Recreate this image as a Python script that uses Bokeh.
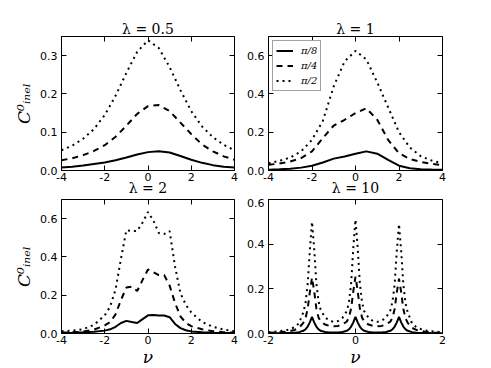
from bokeh.plotting import figure
from bokeh.models import Range1d, FixedTicker, PrintfTickFormatter, LinearAxis, CustomLabelingPolicy
from bokeh.layouts import column, row
from bokeh.embed import file_html
from bokeh.resources import INLINE

# ---------------- data ----------------
series_labels = ["π/8", "π/4", "π/2"]

x_wide = [-4, -3.5, -3, -2.5, -2, -1.5, -1, -0.5, 0, 0.5, 1, 1.5, 2, 2.5, 3, 3.5, 4]

# lambda = 0.5
l05_pi8 = [0.008, 0.010, 0.013, 0.017, 0.021, 0.027, 0.034, 0.042, 0.048, 0.050, 0.047, 0.038, 0.028, 0.020, 0.014, 0.010, 0.008]
l05_pi4 = [0.027, 0.032, 0.040, 0.051, 0.066, 0.088, 0.117, 0.148, 0.168, 0.171, 0.155, 0.125, 0.095, 0.068, 0.050, 0.037, 0.028]
l05_pi2 = [0.053, 0.065, 0.083, 0.108, 0.145, 0.195, 0.255, 0.310, 0.340, 0.320, 0.270, 0.210, 0.155, 0.115, 0.087, 0.067, 0.053]

# lambda = 1
l1_pi8 = [0.004, 0.006, 0.009, 0.015, 0.025, 0.042, 0.062, 0.073, 0.087, 0.100, 0.088, 0.055, 0.025, 0.012, 0.007, 0.005, 0.004]
l1_pi4 = [0.030, 0.036, 0.047, 0.065, 0.100, 0.170, 0.235, 0.265, 0.300, 0.325, 0.265, 0.160, 0.090, 0.060, 0.045, 0.035, 0.028]
l1_pi2 = [0.038, 0.050, 0.068, 0.100, 0.160, 0.260, 0.440, 0.570, 0.625, 0.580, 0.460, 0.330, 0.200, 0.120, 0.075, 0.052, 0.038]

# lambda = 2
x_l2 = [-4, -3.5, -3, -2.5, -2, -1.75, -1.5, -1.25, -1, -0.75, -0.5, -0.25, 0, 0.25, 0.5, 0.75, 1, 1.25, 1.5, 1.75, 2, 2.5, 3, 3.5, 4]
l2_pi8 = [0.003, 0.004, 0.006, 0.009, 0.015, 0.022, 0.035, 0.055, 0.066, 0.060, 0.055, 0.075, 0.095, 0.097, 0.094, 0.094, 0.085, 0.050, 0.028, 0.017, 0.011, 0.006, 0.004, 0.003, 0.003]
l2_pi4 = [0.005, 0.006, 0.010, 0.020, 0.042, 0.060, 0.100, 0.175, 0.240, 0.245, 0.222, 0.280, 0.335, 0.320, 0.305, 0.305, 0.250, 0.160, 0.090, 0.055, 0.038, 0.022, 0.012, 0.007, 0.005]
l2_pi2 = [0.012, 0.015, 0.022, 0.045, 0.095, 0.140, 0.230, 0.390, 0.540, 0.535, 0.535, 0.580, 0.635, 0.590, 0.525, 0.520, 0.535, 0.350, 0.210, 0.150, 0.110, 0.060, 0.035, 0.020, 0.012]

# lambda = 10
x_l10 = [-2.0, -1.8, -1.6, -1.5, -1.4, -1.3, -1.2, -1.15, -1.1, -1.05, -1.0, -0.95, -0.9, -0.85, -0.8, -0.7, -0.6,
         -0.5, -0.4, -0.3, -0.2, -0.15, -0.1, -0.05, 0.0, 0.05, 0.1, 0.15, 0.2, 0.3, 0.4, 0.5, 0.6, 0.7, 0.8, 0.85,
         0.9, 0.95, 1.0, 1.05, 1.1, 1.15, 1.2, 1.3, 1.4, 1.5, 1.6, 1.8, 2.0]
l10_pi8 = [0.001, 0.001, 0.002, 0.002, 0.003, 0.006, 0.012, 0.019, 0.031, 0.050, 0.074, 0.050, 0.031, 0.019, 0.012, 0.007, 0.005,
           0.004, 0.005, 0.007, 0.012, 0.019, 0.031, 0.050, 0.075, 0.050, 0.031, 0.019, 0.012, 0.007, 0.005, 0.004, 0.005, 0.007, 0.012, 0.019,
           0.031, 0.050, 0.074, 0.050, 0.031, 0.019, 0.012, 0.006, 0.003, 0.002, 0.002, 0.001, 0.001]
l10_pi4 = [0.003, 0.005, 0.008, 0.011, 0.016, 0.025, 0.048, 0.068, 0.110, 0.185, 0.250, 0.190, 0.112, 0.072, 0.054, 0.040, 0.034,
           0.032, 0.034, 0.040, 0.054, 0.072, 0.113, 0.190, 0.255, 0.190, 0.113, 0.072, 0.054, 0.040, 0.034, 0.032, 0.034, 0.040, 0.053, 0.070,
           0.110, 0.185, 0.245, 0.185, 0.110, 0.068, 0.048, 0.025, 0.016, 0.011, 0.008, 0.005, 0.003]
l10_pi2 = [0.006, 0.009, 0.014, 0.020, 0.028, 0.045, 0.095, 0.135, 0.220, 0.370, 0.500, 0.380, 0.225, 0.145, 0.105, 0.072, 0.058,
           0.052, 0.056, 0.070, 0.100, 0.140, 0.225, 0.385, 0.510, 0.385, 0.225, 0.140, 0.100, 0.070, 0.056, 0.052, 0.057, 0.071, 0.103, 0.142,
           0.220, 0.370, 0.490, 0.370, 0.220, 0.135, 0.095, 0.045, 0.028, 0.020, 0.014, 0.009, 0.006]

titles = ["λ = 0.5", "λ = 1", "λ = 2", "λ = 10"]
ylabel = "C⁰ᵢₙₑₗ"
xlabel = "ν"

# ---------------- styling helpers ----------------
STYLES = [dict(line_dash="solid"), dict(line_dash="6 5"), dict(line_dash="2 4")]
TICK_FONT = "DejaVu Sans"
SERIF = "DejaVu Serif"


def mirror_axis(ticks):
    return LinearAxis(ticker=FixedTicker(ticks=ticks), major_tick_in=5, major_tick_out=0,
                      minor_tick_line_color=None, axis_line_color=None,
                      major_label_policy=CustomLabelingPolicy(code="return new Set()"),
                      major_label_overrides={t: "" for t in ticks},
                      major_label_text_font_size="1px", major_label_standoff=0)


def make_panel(x, ys, title, xr, yr, xticks, yticks, left, top, bottom, right, fw,
               show_ylabel, xaxis_label, xlabel_style, legend=False):
    p = figure(frame_width=fw, frame_height=134,
               x_range=Range1d(*xr), y_range=Range1d(*yr),
               output_backend="svg", toolbar_location=None,
               min_border_left=left, min_border_right=right,
               min_border_top=top, min_border_bottom=bottom,
               background_fill_color="white", border_fill_color="white")
    p.grid.visible = False
    p.outline_line_color = "black"
    p.outline_line_width = 1
    xax = p.below[0]
    yax = p.left[0]
    for ax, ticks, fmt in ((xax, xticks, "%d"), (yax, yticks, "%.1f")):
        ax.ticker = FixedTicker(ticks=ticks)
        ax.formatter = PrintfTickFormatter(format=fmt)
        ax.major_tick_in = 5
        ax.major_tick_out = 0
        ax.minor_tick_line_color = None
        ax.axis_line_color = "black"
        ax.major_tick_line_color = "black"
        ax.major_label_text_font = TICK_FONT
        ax.major_label_text_font_size = "11px"
        ax.major_label_text_color = "black"
    xax.major_label_standoff = 2
    yax.major_label_standoff = 4
    p.add_layout(mirror_axis(yticks), "right")
    p.add_layout(mirror_axis(xticks), "above")

    if show_ylabel:
        yax.axis_label = ylabel
        yax.axis_label_text_font = SERIF
        yax.axis_label_text_font_style = "italic"
        yax.axis_label_text_font_size = "17px"
        yax.axis_label_text_color = "black"
        yax.axis_label_standoff = 3
    if xaxis_label:
        xax.axis_label = xaxis_label
        xax.axis_label_text_font = SERIF
        xax.axis_label_text_color = "black"
        if xlabel_style == "nu":
            xax.axis_label_text_font_style = "italic"
            xax.axis_label_text_font_size = "17px"
            xax.axis_label_standoff = 0
        else:
            # title of the panel below, which sits right under these tick labels
            xax.axis_label_text_font_style = "normal"
            xax.axis_label_text_font_size = "14px"
            xax.axis_label_standoff = -4

    for yv, st, lab in zip(ys, STYLES, series_labels):
        kw = dict(line_color="black", line_width=2, **st)
        if legend:
            kw["legend_label"] = lab
        p.line(x, yv, **kw)

    if title:
        p.title.text = title
        p.title.align = "center"
        p.title.text_font = SERIF
        p.title.text_font_style = "normal"
        p.title.text_font_size = "14px"
        p.title.text_color = "black"
        p.title.standoff = 0
    if legend:
        lg = p.legend[0]
        lg.location = "top_left"
        lg.margin = 4
        lg.padding = 3
        lg.spacing = 2
        lg.label_height = 13
        lg.glyph_height = 13
        lg.glyph_width = 17
        lg.label_width = 14
        lg.label_standoff = 8
        lg.label_text_font = SERIF
        lg.label_text_font_style = "italic"
        lg.label_text_font_size = "10px"
        lg.label_text_color = "black"
        lg.border_line_color = "#444444"
        lg.border_line_width = 1
        lg.background_fill_alpha = 1
    return p


p1 = make_panel(x_wide, [l05_pi8, l05_pi4, l05_pi2], titles[0], (-4, 4), (0, 0.35),
                [-4, -2, 0, 2, 4], [0, 0.1, 0.2, 0.3], 61, 36, 26, 10, 173, True, titles[2], "title")
p2 = make_panel(x_wide, [l1_pi8, l1_pi4, l1_pi2], titles[1], (-4, 4), (0, 0.7),
                [-4, -2, 0, 2, 4], [0, 0.2, 0.4, 0.6], 24, 36, 26, 10, 174, False, titles[3], "title", legend=True)
p3 = make_panel(x_l2, [l2_pi8, l2_pi4, l2_pi2], None, (-4, 4), (0, 0.7),
                [-4, -2, 0, 2, 4], [0, 0.2, 0.4, 0.6], 61, 1, 30, 10, 173, True, xlabel, "nu")
p4 = make_panel(x_l10, [l10_pi8, l10_pi4, l10_pi2], None, (-2, 2), (0, 0.6),
                [-2, 0, 2], [0, 0.2, 0.4, 0.6], 24, 1, 30, 10, 174, False, xlabel, "nu")

layout = column(row(p1, p2), row(p3, p4))
open("out.html", "w").write(file_html(layout, INLINE))
